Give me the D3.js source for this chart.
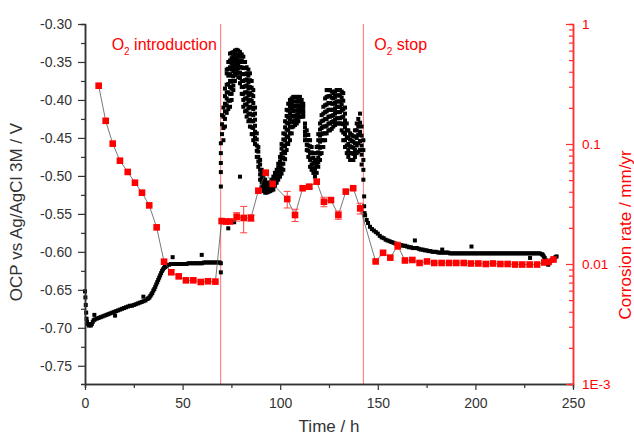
<!DOCTYPE html>
<html>
<head>
<meta charset="utf-8">
<script src="https://cdn.jsdelivr.net/npm/d3@7"></script>
<style>
  body { margin: 0; background: #fff; }
  svg text { font-family: "Liberation Sans", Arial, sans-serif; }
</style>
</head>
<body>
<div id="chart"></div>
<script>
// ---- data ----

// corrosion rate (right axis, mm/yr), time in h
var rateTime = [7.0, 10.6, 14.2, 17.9, 21.9, 25.6, 29.2, 32.9, 36.7, 40.5, 44.2, 48.0, 51.7, 55.5, 59.3, 63.0, 66.8,
    70.0, 72.2, 74.3, 77.7, 81.3, 85.0, 88.8, 92.6, 96.1, 103.6, 107.6, 111.5, 114.9, 118.7, 122.4, 126.0, 129.8, 133.6, 137.4, 141.0,
    148.9, 152.7, 156.4, 160.2, 163.9, 167.7, 171.4, 175.2, 178.9, 182.7, 186.5, 190.2, 194.0, 197.7, 201.5, 205.3, 209.0,
    212.8, 216.5, 220.3, 224.0, 227.8, 231.6, 235.3, 237.4, 240.0]
var rateValue = [0.306, 0.156, 0.1007, 0.0726, 0.0585, 0.0476, 0.0393, 0.0308, 0.0202, 0.01045, 0.00853, 0.00789, 0.00731, 0.00731, 0.00708, 0.00718, 0.00713,
    0.0228, 0.0226, 0.0226, 0.0248, 0.0242, 0.0242, 0.0408, 0.0577, 0.0465, 0.0348, 0.0256, 0.0428, 0.0441, 0.0485, 0.0330, 0.0341, 0.0256, 0.0401, 0.0428, 0.0291,
    0.0105, 0.0124, 0.0113, 0.0142, 0.0107, 0.0108, 0.0102, 0.0105, 0.0102, 0.0102, 0.0102, 0.0102, 0.0102, 0.0101, 0.0101, 0.0100, 0.0101,
    0.0100, 0.0100, 0.0099, 0.0099, 0.0099, 0.0099, 0.0103, 0.0104, 0.0109]
// error bar half-widths (0 = no bar)
var rateErr = [0, 0, 0, 0, 0, 0, 0, 0, 0, 0, 0, 0, 0, 0, 0, 0, 0,
    0, 0, 0, 0.002, 0.006, 0.0015, 0, 0, 0, 0.0055, 0.003, 0, 0.0015, 0, 0.003, 0, 0.002, 0, 0, 0.003,
    0, 0, 0, 0.001, 0, 0, 0, 0, 0, 0, 0, 0, 0, 0, 0, 0, 0,
    0, 0, 0, 0, 0, 0, 0, 0, 0]

// OCP (left axis, V) before O2 introduction: [time, value]
var ocpStart = [[0, -0.652], [0.2, -0.660], [0.4, -0.670], [0.6, -0.680], [0.8, -0.688], [1.0, -0.692], [1.5, -0.695], [2.0, -0.697],
    [2.5, -0.696], [3.0, -0.697], [3.5, -0.695], [4.0, -0.692], [4.5, -0.690], [4.8, -0.683], [5, -0.689], [6, -0.688], [7, -0.687],
    [8, -0.686], [9, -0.685], [10, -0.684], [11, -0.683], [12, -0.682], [13, -0.681], [14, -0.680], [15, -0.679], [15.4, -0.684],
    [16, -0.678], [17, -0.677], [18, -0.676], [19, -0.675], [20, -0.674], [21, -0.673], [22, -0.672], [23, -0.671], [24, -0.671],
    [25, -0.670], [26, -0.669], [27, -0.668], [28, -0.667], [29, -0.666], [29.9, -0.659], [30, -0.665], [31, -0.664], [32, -0.662],
    [32.5, -0.661], [33, -0.660], [33.5, -0.658], [34, -0.656], [34.5, -0.654], [35, -0.651], [35.5, -0.649], [36, -0.646], [36.5, -0.643],
    [37, -0.640], [37.5, -0.637], [38, -0.634], [38.5, -0.631], [39, -0.628], [39.5, -0.625], [40, -0.623], [40.5, -0.621], [41, -0.620],
    [41.5, -0.619], [42, -0.618], [43, -0.617], [44, -0.616], [44.9, -0.607], [45, -0.616], [46, -0.616], [47, -0.616], [48, -0.616],
    [49, -0.616], [50, -0.616], [51, -0.616], [52, -0.616], [53, -0.615], [54, -0.615], [55, -0.615], [56, -0.615], [57, -0.615],
    [58, -0.615], [59, -0.615], [59.8, -0.604], [60, -0.615], [61, -0.614], [62, -0.614], [63, -0.614], [64, -0.614], [65, -0.614],
    [66, -0.614], [67, -0.614], [68, -0.614], [69, -0.614]]

// OCP while O2 is bubbled: [time, values seen at that time...]
var ocpO2 = [[69.6, -0.627, -0.615, -0.514, -0.495, -0.483, -0.470, -0.457], [70.2, -0.445, -0.432, -0.420],
    [70.9, -0.410, -0.422, -0.437, -0.453], [71.7, -0.385, -0.395, -0.405, -0.415, -0.425, -0.435],
    [72.6, -0.360, -0.365, -0.380, -0.390, -0.398, -0.407, -0.417],
    [73.4, -0.350, -0.359, -0.368, -0.379, -0.390, -0.401, -0.412, -0.569], [74.3, -0.339, -0.348, -0.357, -0.366, -0.375, -0.383, -0.392, -0.401, -0.409],
    [75.1, -0.338, -0.345, -0.352, -0.360, -0.368, -0.376, -0.385, -0.392, -0.400], [76.0, -0.337, -0.343, -0.350, -0.356, -0.362, -0.369, -0.375, -0.381, -0.387],
    [76.4, -0.561], [76.8, -0.335, -0.340, -0.346, -0.353, -0.360, -0.367, -0.375], [77.7, -0.334, -0.340, -0.345, -0.350, -0.355, -0.360, -0.365],
    [78.5, -0.335, -0.341, -0.348, -0.353, -0.358, -0.364, -0.370], [79.4, -0.337, -0.343, -0.350, -0.357, -0.364, -0.371, -0.378, -0.501],
    [80.3, -0.340, -0.348, -0.357, -0.366, -0.375, -0.383, -0.392], [81.1, -0.343, -0.350, -0.358, -0.366, -0.375, -0.383, -0.392, -0.400, -0.409],
    [82.0, -0.350, -0.358, -0.366, -0.374, -0.382, -0.390, -0.398, -0.406, -0.415], [82.8, -0.357, -0.365, -0.373, -0.381, -0.390, -0.398, -0.406, -0.414, -0.422],
    [83.7, -0.360, -0.368, -0.377, -0.385, -0.394, -0.402, -0.411, -0.419, -0.428], [84.5, -0.365, -0.374, -0.383, -0.391, -0.400, -0.409, -0.418, -0.426, -0.435],
    [85.4, -0.375, -0.384, -0.393, -0.401, -0.410, -0.419, -0.428, -0.436, -0.445], [86.2, -0.387, -0.395, -0.404, -0.412, -0.420, -0.428, -0.437, -0.445, -0.453],
    [87.1, -0.410, -0.418, -0.426, -0.434, -0.442, -0.450, -0.458], [88.0, -0.444, -0.452, -0.460, -0.467, -0.475],
    [88.8, -0.462, -0.468, -0.475, -0.481, -0.488],
    [89.7, -0.479, -0.485, -0.492, -0.498, -0.505], [90.5, -0.492, -0.497, -0.503, -0.508, -0.514], [91.4, -0.500, -0.505, -0.510, -0.515, -0.520],
    [92.3, -0.505, -0.510, -0.514, -0.518, -0.522], [93.1, -0.509, -0.512, -0.516, -0.519, -0.522], [94.0, -0.509, -0.512, -0.515, -0.518, -0.521],
    [94.8, -0.509, -0.512, -0.515, -0.518, -0.520], [95.6, -0.505, -0.508, -0.512, -0.515, -0.519], [96.5, -0.501, -0.505, -0.510, -0.514, -0.518],
    [97.3, -0.496, -0.500, -0.505, -0.509, -0.513], [98.2, -0.492, -0.496, -0.500, -0.504, -0.509], [99.0, -0.484, -0.489, -0.494, -0.499, -0.505],
    [99.9, -0.475, -0.481, -0.488, -0.494, -0.501], [100.7, -0.458, -0.464, -0.471, -0.477, -0.484, -0.490, -0.497],
    [101.6, -0.444, -0.452, -0.460, -0.468, -0.476, -0.484, -0.492],
    [102.5, -0.428, -0.436, -0.445, -0.453, -0.461, -0.470, -0.478], [103.3, -0.413, -0.421, -0.430, -0.439, -0.448, -0.457, -0.466],
    [104.1, -0.405, -0.414, -0.423, -0.431, -0.440, -0.449, -0.458],
    [105.0, -0.400, -0.409, -0.418, -0.426, -0.435, -0.444, -0.453], [105.9, -0.398, -0.405, -0.413, -0.421, -0.429, -0.436, -0.444],
    [106.7, -0.396, -0.402, -0.409, -0.415, -0.422, -0.428, -0.435],
    [107.6, -0.396, -0.402, -0.408, -0.414, -0.421, -0.427, -0.433], [108.5, -0.396, -0.402, -0.408, -0.414, -0.420, -0.426, -0.431],
    [109.3, -0.396, -0.401, -0.407, -0.412, -0.418, -0.423, -0.428],
    [110.1, -0.396, -0.402, -0.409, -0.415, -0.422], [111.0, -0.400, -0.405, -0.411, -0.416, -0.422], [111.8, -0.405, -0.409, -0.414, -0.418, -0.422],
    [112.7, -0.431, -0.436, -0.442, -0.447, -0.453], [113.6, -0.440, -0.446, -0.453, -0.459, -0.466], [114.4, -0.446, -0.453, -0.460, -0.467, -0.475],
    [115.3, -0.453, -0.461, -0.470, -0.479, -0.488], [116.1, -0.462, -0.469, -0.477, -0.485, -0.492], [117.0, -0.470, -0.476, -0.483, -0.490, -0.496],
    [117.8, -0.479, -0.484, -0.490, -0.495, -0.501], [118.7, -0.462, -0.470, -0.479, -0.487, -0.496],
    [119.5, -0.445, -0.453, -0.461, -0.469, -0.476, -0.482, -0.488],
    [120.4, -0.431, -0.439, -0.447, -0.455, -0.463, -0.471, -0.479], [121.2, -0.420, -0.428, -0.437, -0.445, -0.453, -0.462, -0.470],
    [122.1, -0.409, -0.418, -0.427, -0.435, -0.444, -0.453, -0.462],
    [123.0, -0.398, -0.407, -0.416, -0.425, -0.435, -0.444, -0.453], [123.8, -0.387, -0.396, -0.406, -0.415, -0.425, -0.434, -0.444],
    [124.7, -0.387, -0.395, -0.404, -0.413, -0.422, -0.431, -0.440],
    [125.5, -0.387, -0.395, -0.404, -0.413, -0.422, -0.431, -0.440], [126.4, -0.389, -0.397, -0.405, -0.413, -0.421, -0.429, -0.438],
    [127.2, -0.391, -0.398, -0.405, -0.413, -0.420, -0.428, -0.435],
    [128.1, -0.389, -0.396, -0.404, -0.411, -0.418, -0.426, -0.433], [128.9, -0.387, -0.394, -0.402, -0.409, -0.416, -0.424, -0.431],
    [129.8, -0.387, -0.394, -0.402, -0.409, -0.416, -0.424, -0.431],
    [130.6, -0.387, -0.394, -0.402, -0.409, -0.416, -0.424, -0.431], [131.5, -0.389, -0.397, -0.406, -0.414, -0.423, -0.431, -0.440],
    [132.3, -0.391, -0.401, -0.412, -0.422, -0.432, -0.443, -0.453],
    [133.2, -0.410, -0.418, -0.427, -0.436, -0.445, -0.453, -0.462], [134.1, -0.431, -0.440, -0.450, -0.460, -0.470],
    [134.9, -0.440, -0.449, -0.458, -0.466, -0.475],
    [135.8, -0.444, -0.452, -0.461, -0.470, -0.479], [136.6, -0.446, -0.454, -0.462, -0.470, -0.479], [137.5, -0.448, -0.455, -0.463, -0.471, -0.479],
    [138.3, -0.440, -0.448, -0.457, -0.466, -0.475], [139.2, -0.431, -0.440, -0.450, -0.460, -0.470], [140.0, -0.425, -0.435, -0.446, -0.457, -0.468],
    [140.9, -0.418, -0.430, -0.442, -0.454, -0.466], [141.7, -0.435, -0.447, -0.460, -0.472, -0.485],
    [142.6, -0.453, -0.466, -0.479, -0.492, -0.505]]

// OCP after O2 stop: [time, value]
var ocpAfter = [[143.0, -0.527], [143.0, -0.540], [143.2, -0.549], [143.5, -0.552], [144.3, -0.558], [145, -0.562], [146, -0.567],
    [147, -0.570], [148, -0.572], [149, -0.574], [150, -0.576], [151, -0.579], [152, -0.581], [153, -0.582], [154, -0.584],
    [155, -0.585], [156, -0.586], [157, -0.587], [158, -0.588], [159, -0.589], [160, -0.590], [161, -0.591], [162, -0.591],
    [163, -0.592], [164, -0.592], [165, -0.593], [166, -0.594], [167, -0.594], [168, -0.595], [169, -0.585], [169, -0.595],
    [170, -0.595], [171, -0.596], [172, -0.597], [173, -0.597], [174, -0.598], [175, -0.598], [176, -0.599], [177, -0.599],
    [178, -0.600], [179, -0.600], [180, -0.600], [181, -0.601], [182, -0.601], [183, -0.597], [183, -0.601], [184, -0.601],
    [185, -0.601], [186, -0.601], [187, -0.602], [188, -0.602], [189, -0.602], [190, -0.602], [191, -0.602], [192, -0.602],
    [193, -0.602], [194, -0.602], [195, -0.602], [196, -0.602], [197, -0.602], [198, -0.593], [198, -0.602], [199, -0.602],
    [200, -0.602], [201, -0.602], [202, -0.602], [203, -0.602], [204, -0.602], [205, -0.602], [206, -0.602], [207, -0.602],
    [208, -0.602], [209, -0.602], [210, -0.602], [211, -0.602], [212, -0.602], [213, -0.602], [214, -0.602], [215, -0.602],
    [216, -0.602], [217, -0.602], [218, -0.602], [219, -0.602], [220, -0.602], [221, -0.602], [222, -0.602], [223, -0.602],
    [224, -0.602], [225, -0.602], [226, -0.602], [227, -0.602], [228, -0.608], [228, -0.602], [229, -0.602], [230, -0.602],
    [231, -0.602], [232, -0.602], [233, -0.602], [234, -0.603], [234.5, -0.604], [235, -0.606], [235.5, -0.608], [236, -0.611],
    [236.5, -0.613], [237, -0.616], [237.3, -0.617], [238, -0.614], [238.5, -0.612], [239, -0.611], [240, -0.609], [241, -0.607],
    [241.6, -0.606]]

var o2Events = [69.5, 142.6]
var o2Labels = ['introduction', 'stop']

var leftTicks = [-0.75, -0.70, -0.65, -0.60, -0.55, -0.50, -0.45, -0.40, -0.35, -0.30]
var rightTicks = [1, 0.1, 0.01, 0.001]
var rightTickLabels = ['1', '0.1', '0.01', '1E-3']
var bottomTicks = [0, 50, 100, 150, 200, 250]

// ---- layout ----
var margin = { top: 24, right: 61, bottom: 53, left: 85 }
var width = 634 - margin.left - margin.right
var height = 437 - margin.top - margin.bottom
var red = '#ff0000'
var dark = '#333'

var x = d3.scaleLinear().domain([0, 250]).range([0, width])
var y = d3.scaleLinear().domain([-0.774, -0.30]).range([height, 0])
var y2 = d3.scaleLog().domain([0.001, 1]).range([height, 0])

var svg = d3.select('#chart')
    .append('svg')
    .attr('width', 634)
    .attr('height', 437)
var g = svg.append('g')
    .attr('transform', 'translate(' + margin.left + ',' + margin.top + ')')

// O2 event lines
g.selectAll('.event')
    .data(o2Events)
    .enter().append('line')
    .attr('x1', function (d) { return x(d) })
    .attr('x2', function (d) { return x(d) })
    .attr('y1', 0)
    .attr('y2', height)
    .style('stroke', '#ff7070')
    .style('stroke-width', 1)

// flatten OCP points
var ocp = ocpStart.slice()
ocpO2.forEach(function (row) {
    row.slice(1).forEach(function (v) { ocp.push([row[0], v]) })
})
ocp = ocp.concat(ocpAfter)

g.append('g').selectAll('rect')
    .data(ocp)
    .enter().append('rect')
    .attr('x', function (d) { return x(d[0]) - 2 })
    .attr('y', function (d) { return y(d[1]) - 2 })
    .attr('width', 4)
    .attr('height', 4)
    .style('fill', '#000')

// corrosion rate
var rate = rateTime.map(function (t, i) { return { t: t, v: rateValue[i], e: rateErr[i] } })

g.append('path')
    .datum(rate)
    .attr('d', d3.line()
        .x(function (d) { return x(d.t) })
        .y(function (d) { return y2(d.v) }))
    .style('fill', 'none')
    .style('stroke', '#555')
    .style('stroke-width', 0.8)

var eb = g.append('g').selectAll('g')
    .data(rate.filter(function (d) { return d.e > 0 }))
    .enter().append('g')
    .style('stroke', '#ff4040')
    .style('stroke-width', 1)
eb.append('line')
    .attr('x1', function (d) { return x(d.t) })
    .attr('x2', function (d) { return x(d.t) })
    .attr('y1', function (d) { return y2(d.v + d.e) })
    .attr('y2', function (d) { return y2(d.v - d.e) })
eb.append('line')
    .attr('x1', function (d) { return x(d.t) - 3.5 })
    .attr('x2', function (d) { return x(d.t) + 3.5 })
    .attr('y1', function (d) { return y2(d.v + d.e) })
    .attr('y2', function (d) { return y2(d.v + d.e) })
eb.append('line')
    .attr('x1', function (d) { return x(d.t) - 3.5 })
    .attr('x2', function (d) { return x(d.t) + 3.5 })
    .attr('y1', function (d) { return y2(d.v - d.e) })
    .attr('y2', function (d) { return y2(d.v - d.e) })

g.append('g').selectAll('rect')
    .data(rate)
    .enter().append('rect')
    .attr('x', function (d) { return x(d.t) - 3.3 })
    .attr('y', function (d) { return y2(d.v) - 3.3 })
    .attr('width', 6.6)
    .attr('height', 6.6)
    .style('fill', red)

// ---- axes ----
function styleAxis(sel, col, size) {
    sel.selectAll('path').style('stroke', col).style('stroke-width', 1.5)
    sel.selectAll('line').style('stroke', col).style('stroke-width', 1.2)
    sel.selectAll('text').style('fill', col).style('font-size', size + 'px')
}

// left
var leftMinor = leftTicks.slice(1).map(function (d) { return d - 0.025 })
g.append('g').call(d3.axisLeft(y).tickValues(leftMinor).tickSize(4).tickFormat(''))
    .call(styleAxis, dark, 14)
g.append('g').call(d3.axisLeft(y).tickValues(leftTicks).tickSize(7).tickSizeOuter(0).tickPadding(6)
        .tickFormat(function (d) { return d.toFixed(2) }))
    .call(styleAxis, dark, 14)

// bottom
var bottomMinor = bottomTicks.slice(1).map(function (d) { return d - 25 })
var gx = g.append('g').attr('transform', 'translate(0,' + height + ')')
gx.append('g').call(d3.axisBottom(x).tickValues(bottomMinor).tickSize(4).tickFormat(''))
    .call(styleAxis, dark, 14)
gx.append('g').call(d3.axisBottom(x).tickValues(bottomTicks).tickSize(6).tickSizeOuter(0).tickPadding(8))
    .call(styleAxis, dark, 14)

// right (log)
var rightMinor = []
rightTicks.slice(1).forEach(function (d) {
    for (var m = 2; m <= 9; m++) rightMinor.push(d * m)
})
var gr = g.append('g').attr('transform', 'translate(' + width + ',0)')
gr.append('g').call(d3.axisRight(y2).tickValues(rightMinor).tickSize(-4).tickFormat(''))
    .call(styleAxis, '#ff3030', 13.5)
gr.append('g').call(d3.axisRight(y2).tickValues(rightTicks).tickSizeInner(-7).tickSizeOuter(0).tickPadding(9)
        .tickFormat(function (d, i) { return rightTickLabels[i] }))
    .call(styleAxis, '#ff3030', 13.5)
gr.selectAll('text').style('fill', red)

// axis titles
g.append('text')
    .attr('x', width / 2)
    .attr('y', height + 48)
    .style('text-anchor', 'middle')
    .style('font-size', '17px')
    .style('fill', dark)
    .text('Time / h')
g.append('text')
    .attr('transform', 'translate(' + (-63) + ',' + 188 + ') rotate(-90)')
    .style('text-anchor', 'middle')
    .style('font-size', '17px')
    .style('fill', dark)
    .text('OCP vs Ag/AgCl 3M / V')
g.append('text')
    .attr('transform', 'translate(' + (width + 58) + ',' + 211 + ') rotate(-90)')
    .style('text-anchor', 'middle')
    .style('font-size', '17px')
    .style('fill', red)
    .text('Corrosion rate / mm/yr')

// O2 annotations
var ann = g.selectAll('.ann')
    .data(o2Events)
    .enter().append('text')
    .attr('x', function (d, i) { return i === 0 ? x(d) - 109 : x(d) + 11 })
    .attr('y', 25.5)
    .style('font-size', '16px')
    .style('fill', red)
ann.append('tspan').text('O')
ann.append('tspan').attr('dy', 5).style('font-size', '10px').text('2')
ann.append('tspan').attr('dy', -5).text(function (d, i) { return ' ' + o2Labels[i] })
</script>
</body>
</html>
